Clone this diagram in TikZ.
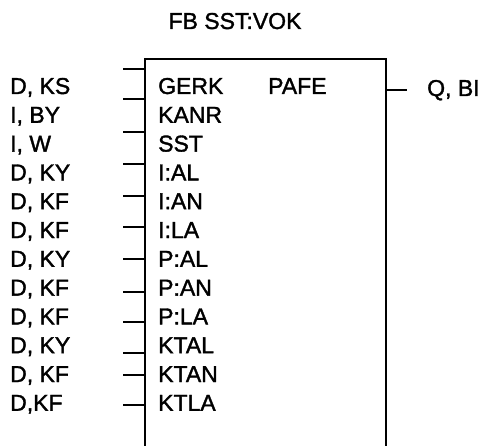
\documentclass[tikz,border=0pt]{standalone}
\usepackage{fontspec}
\setmainfont[FakeBold=1.5]{Liberation Sans}
\usetikzlibrary{positioning,calc}

\begin{document}
\begin{tikzpicture}[x=1pt, y=-1pt, font=\fontsize{23}{24}\selectfont,
    lbl/.style={anchor=base west, inner sep=0pt},
    wire/.style={line width=2pt}]
    \useasboundingbox (0,0) rectangle (484,446);
    \node [anchor=base, inner sep=0pt] (title) at (235,29) {FB SST:VOK};

    % block, open at the bottom
    \coordinate (boxtl) at (145,59);
    \coordinate (boxtr) at (386,59);
    \draw [wire] (145,446) -- (boxtl) -- (boxtr) -- (386,446);
    \node [lbl] (outpin) at (268,94) {PAFE};

    % inputs
    \foreach \src/\pin/\sy [count=\i from 0] in {{D, KS}/GERK/69, {I, BY}/KANR/99, {I, W}/SST/132,
        {D, KY}/I:AL/164, {D, KF}/I:AN/196, {D, KF}/I:LA/227, {D, KY}/P:AL/259, {D, KF}/P:AN/292,
        {D, KF}/P:LA/322, {D, KY}/KTAL/353, {D, KF}/KTAN/375, {D,KF}/KTLA/405} {
        \node [lbl] (src\i) at (10,94+28.8*\i) {\src};
        \node [lbl] (pin\i) at (158,94+28.8*\i) {\pin};
        \coordinate (stub\i) at (123,\sy);
        \draw [wire] (stub\i) -- (stub\i -| boxtl);
    }

    % output
    \coordinate (outend) at (407,90);
    \node [lbl] (dst) at (427,96) {Q, BI};
    \draw [wire] (outend -| boxtr) -- (outend);
\end{tikzpicture}
\end{document}
